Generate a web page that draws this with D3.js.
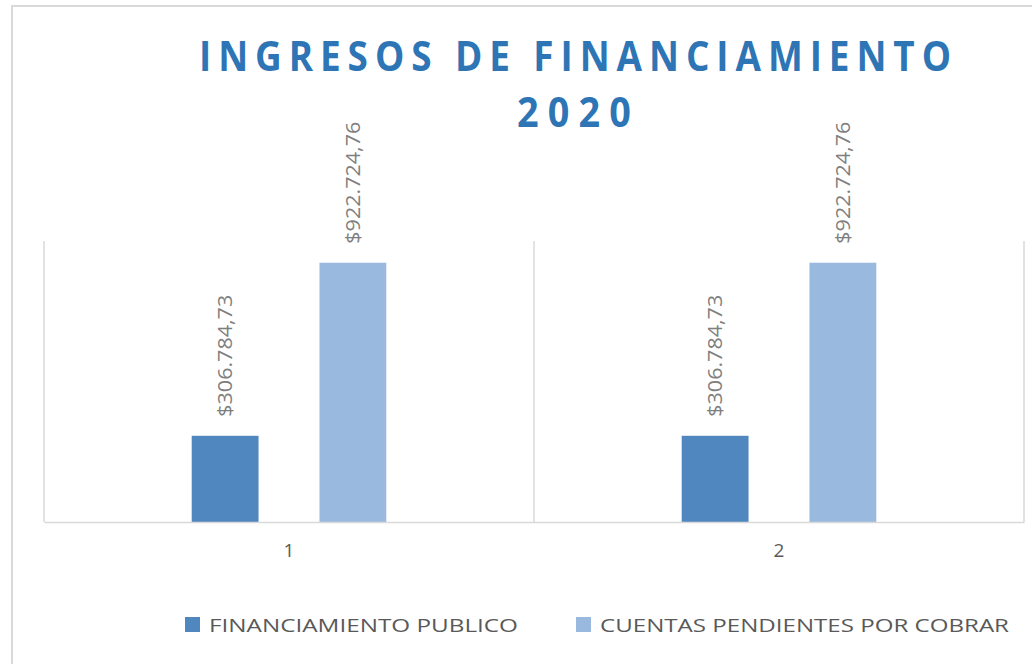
<!DOCTYPE html>
<html>
<head>
<meta charset="utf-8">
<script src="https://cdn.jsdelivr.net/npm/d3@7"></script>
<style>
  body { margin: 0; background: #fff; }
  text { font-family: "Open Sans", sans-serif; }
</style>
</head>
<body>
<svg id="chart" width="1032" height="664"></svg>
<script>
// data
var categories = ["1", "2"];
var seriesNames = ["FINANCIAMIENTO PUBLICO", "CUENTAS PENDIENTES POR COBRAR"];
var seriesColors = ["#4f87be", "#99b9df"];
var financiamientoPublico = [306784.73, 306784.73];
var cuentasPorCobrar = [922724.76, 922724.76];
var axisMax = 1000000;

var svg = d3.select("#chart");
var width = +svg.attr("width");
var height = +svg.attr("height");

// plot area
var plotLeft = 44, plotRight = 1024, plotTop = 241, plotBottom = 522;

var rows = categories.map(function (c, i) {
  return { cat: c, values: [financiamientoPublico[i], cuentasPorCobrar[i]] };
});

// outer chart border
svg.append("rect")
  .attr("x", 12).attr("y", 6)
  .attr("width", width + 20).attr("height", height + 20)
  .attr("fill", "none")
  .attr("stroke", "#d9d9d9")
  .attr("stroke-width", 2);

var x0 = d3.scaleBand()
  .domain(categories)
  .range([plotLeft, plotRight]);

var x1 = d3.scaleBand()
  .domain(d3.range(seriesNames.length))
  .range([0, x0.bandwidth()])
  .paddingInner(0.477)
  .paddingOuter(1.156);

var y = d3.scaleLinear()
  .domain([0, axisMax])
  .range([plotBottom, plotTop]);

// category separators (left, between, right)
var seps = categories.map(function (c) { return x0(c); }).concat([plotRight]);
svg.selectAll(".sep")
  .data(seps)
  .enter()
  .append("line")
  .attr("class", "sep")
  .attr("x1", function (d) { return d; })
  .attr("x2", function (d) { return d; })
  .attr("y1", plotTop)
  .attr("y2", plotBottom)
  .attr("stroke", "#d9d9d9")
  .attr("stroke-width", 1.5);

// bars
var group = svg.selectAll(".cat")
  .data(rows)
  .enter()
  .append("g")
  .attr("class", "cat")
  .attr("transform", function (d) { return "translate(" + x0(d.cat) + ",0)"; });

group.selectAll("rect")
  .data(function (d) { return d.values; })
  .enter()
  .append("rect")
  .attr("x", function (d, i) { return x1(i); })
  .attr("y", function (d) { return y(d); })
  .attr("width", x1.bandwidth())
  .attr("height", function (d) { return plotBottom - y(d); })
  .attr("fill", function (d, i) { return seriesColors[i]; });

// value labels, rotated
var fmt = function (v) {
  var s = v.toFixed(2).split(".");
  return "$" + s[0].replace(/\B(?=(\d{3})+(?!\d))/g, ".") + "," + s[1];
};

group.selectAll(".lbl")
  .data(function (d) { return d.values; })
  .enter()
  .append("text")
  .attr("class", "lbl")
  .attr("transform", function (d, i) {
    var cx = x1(i) + x1.bandwidth() / 2;
    return "translate(" + cx + "," + (y(d) - 19) + ") rotate(-90)";
  })
  .attr("dy", "0.36em")
  .attr("text-anchor", "start")
  .attr("font-size", 19.5)
  .attr("fill", "#7f7f7f")
  .attr("textLength", 122)
  .attr("lengthAdjust", "spacingAndGlyphs")
  .text(function (d) { return fmt(d); });

// bottom axis
var xAxis = svg.append("g")
  .attr("transform", "translate(0," + plotBottom + ")")
  .call(d3.axisBottom(x0).tickSize(0).tickPadding(22));
xAxis.select(".domain").attr("stroke", "#d9d9d9").attr("stroke-width", 1.5);
xAxis.selectAll("text")
  .attr("font-family", "Open Sans, sans-serif")
  .attr("font-size", 19)
  .attr("fill", "#595959");

// title: narrower glyphs with letter spacing
var sx = 0.9;
var title = svg.append("g").attr("fill", "#2e75b6").attr("font-weight", "bold");
title.append("text")
  .attr("transform", "translate(199,71) scale(" + sx + ",1)")
  .attr("font-size", 41)
  .attr("textLength", 752 / sx)
  .attr("lengthAdjust", "spacing")
  .text("INGRESOS DE FINANCIAMIENTO");
title.append("text")
  .attr("transform", "translate(517,127) scale(" + sx + ",1)")
  .attr("font-size", 42)
  .attr("textLength", 114 / sx)
  .attr("lengthAdjust", "spacing")
  .text("2020");

// legend
var legendX = [185, 576];
var legendW = [309, 409];
var legend = svg.selectAll(".legend")
  .data(seriesNames)
  .enter()
  .append("g")
  .attr("class", "legend")
  .attr("transform", function (d, i) { return "translate(" + legendX[i] + ",617)"; });

legend.append("rect")
  .attr("width", 15).attr("height", 15)
  .attr("fill", function (d, i) { return seriesColors[i]; });

legend.append("text")
  .attr("x", 24).attr("y", 15)
  .attr("font-size", 18)
  .attr("fill", "#595959")
  .attr("textLength", function (d, i) { return legendW[i]; })
  .attr("lengthAdjust", "spacingAndGlyphs")
  .text(function (d) { return d; });
</script>
</body>
</html>
